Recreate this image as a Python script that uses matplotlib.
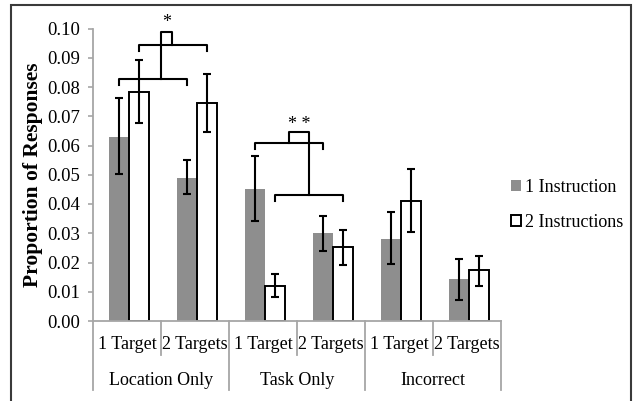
import matplotlib
matplotlib.use('Agg')
import matplotlib.pyplot as plt
from matplotlib.patches import Rectangle, Patch
import numpy as np

plt.rcParams['font.family'] = ['Liberation Serif', 'DejaVu Serif']

# data
groups = ["Location Only", "Task Only", "Incorrect"]
sub_labels = ["1 Target", "2 Targets", "1 Target", "2 Targets", "1 Target", "2 Targets"]
series_names = ["1 Instruction", "2 Instructions"]

one_instr = [0.063, 0.049, 0.045, 0.030, 0.028, 0.0143]
one_lo = [0.0503, 0.0435, 0.0342, 0.024, 0.0194, 0.0072]
one_hi = [0.0761, 0.055, 0.0565, 0.036, 0.0372, 0.0211]

two_instr = [0.0782, 0.0744, 0.012, 0.0254, 0.041, 0.0174]
two_lo = [0.0676, 0.0645, 0.0081, 0.0191, 0.0303, 0.0121]
two_hi = [0.0892, 0.0843, 0.0161, 0.031, 0.052, 0.0223]

yticks = np.arange(0, 0.101, 0.01)

gray = '#8e8e8e'
axis_gray = '#a6a6a6'

fig = plt.figure(figsize=(6.33, 4.01), dpi=100)
ax = fig.add_axes([93/633, 1 - 321/401, (501-93)/633, (321-28.5)/401])

x = np.arange(len(sub_labels))
w = 0.29
off = 0.03
x1 = x + off - w/2
x2 = x + off + w/2

ax.bar(x1, one_instr, width=w, color=gray, edgecolor='none', zorder=2)
ax.bar(x2, two_instr, width=w, color='white', edgecolor='black', linewidth=1.4, zorder=2)

# error bars from the read lower / upper ends
one_err = [np.array(one_instr) - np.array(one_lo), np.array(one_hi) - np.array(one_instr)]
two_err = [np.array(two_instr) - np.array(two_lo), np.array(two_hi) - np.array(two_instr)]
ax.errorbar(x1, one_instr, yerr=one_err, fmt='none', ecolor='black', elinewidth=1.5,
            capsize=3, capthick=1.5, zorder=3)
ax.errorbar(x2, two_instr, yerr=two_err, fmt='none', ecolor='black', elinewidth=1.5,
            capsize=3, capthick=1.5, zorder=3)

ax.set_xlim(-0.5, len(sub_labels) - 0.5)
ax.set_ylim(0, 0.10)
ax.set_yticks(yticks)
ax.set_yticklabels(["%.2f" % t for t in yticks], fontsize=13.5)
ax.tick_params(axis='y', direction='out', length=3.5, width=1.2, color=axis_gray, pad=6)
ax.set_xticks([])
for s in ['top', 'right']:
    ax.spines[s].set_visible(False)
for s in ['left', 'bottom']:
    ax.spines[s].set_color(axis_gray)
    ax.spines[s].set_linewidth(1.3)

ax.set_ylabel("Proportion of Responses", fontsize=15.5, fontweight='bold', labelpad=3)

# category labels and separators under the axis
trans = ax.get_xaxis_transform()
for i, lab in enumerate(sub_labels):
    ax.text(i, -0.082, lab, transform=trans, ha='center', va='center', fontsize=13)
for j, g in enumerate(groups):
    ax.text(2*j + 0.5, -0.202, g, transform=trans, ha='center', va='center', fontsize=13)
for k in range(len(sub_labels) + 1):
    bottom = -0.236 if k % 2 == 0 else -0.116
    ax.plot([k - 0.5, k - 0.5], [0, bottom], transform=trans, color=axis_gray,
            lw=1.3, clip_on=False)

# significance brackets
def bracket(xa, xb, y, drop):
    ax.plot([xa, xa, xb, xb], [y - drop, y, y, y - drop], color='black', lw=1.5,
            clip_on=False, zorder=4)

lw = 1.5
bracket(x1[0], x1[1], 0.0828, 0.002)
bracket(x2[0], x2[1], 0.0945, 0.0023)
ax.plot([0.494, 0.494, 0.657, 0.657], [0.0828, 0.0987, 0.0987, 0.0945], color='black',
        lw=lw, clip_on=False, zorder=4)
ax.text(0.584, 0.1022, "*", ha='center', va='center', fontsize=13, clip_on=False)

bracket(x1[2], x1[3], 0.0609, 0.0021)
bracket(x2[2], x2[3], 0.0432, 0.0022)
c_up = (x1[2] + x1[3]) / 2
c_low = (x2[2] + x2[3]) / 2
ax.plot([c_up, c_up, c_low, c_low], [0.0609, 0.0645, 0.0645, 0.0432], color='black',
        lw=lw, clip_on=False, zorder=4)
ax.text((c_up + c_low) / 2, 0.0673, "* *", ha='center', va='center', fontsize=13)

handles = [Patch(facecolor=gray, edgecolor='none'),
           Patch(facecolor='white', edgecolor='black', linewidth=1.4)]
fig.legend(handles, series_names, loc='center left', bbox_to_anchor=(502/633, 1 - 205/401),
           frameon=False, fontsize=13, handlelength=0.55, handleheight=0.55,
           handletextpad=0.2, labelspacing=1.0, borderpad=0)

# outer frame
fig.patches.append(Rectangle((11/633, -0.05), (631-11)/633, 1 - 4.5/401 + 0.05,
                             transform=fig.transFigure, fill=False,
                             edgecolor='#3a3a3a', linewidth=1.5))

fig.savefig('out.png', dpi=100)
